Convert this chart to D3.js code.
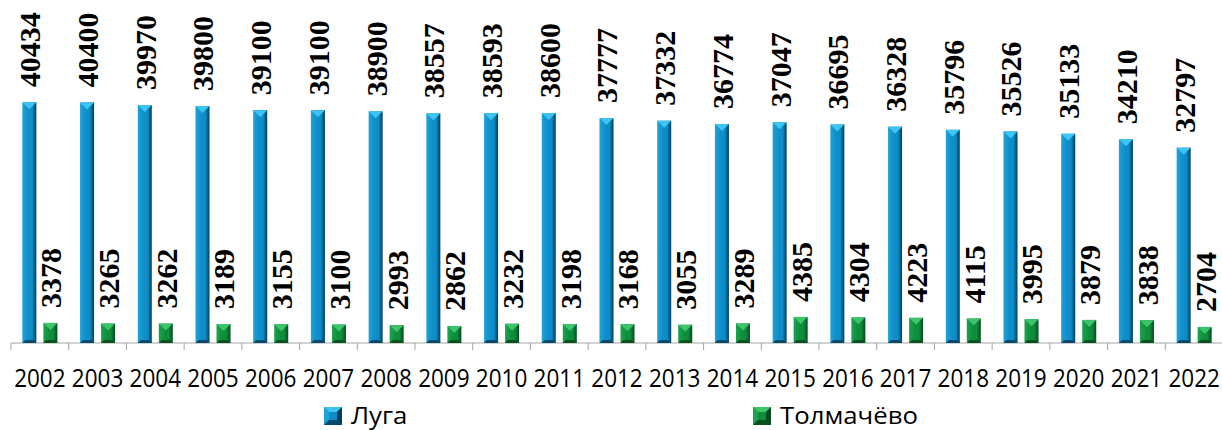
<!DOCTYPE html>
<html>
<head>
<meta charset="utf-8">
<script src="https://cdn.jsdelivr.net/npm/d3@7"></script>
<style>
  body { margin: 0; background: #fff; }
  svg { display: block; }
  .axis path, .axis line { stroke: #a6a6a6; }
  .axis text { font-family: "Open Sans", sans-serif; font-size: 25px; fill: #000; }
  .lbl { font-family: "Liberation Serif", "Times New Roman", serif; font-weight: bold; font-size: 30px; fill: #000; }
  .legend text { font-family: "Open Sans", sans-serif; font-size: 23px; fill: #000; }
</style>
</head>
<body>
<svg id="chart" width="1222" height="430"></svg>
<script>
var years = ["2002","2003","2004","2005","2006","2007","2008","2009","2010","2011","2012",
  "2013","2014","2015","2016","2017","2018","2019","2020","2021","2022"];
var luga = [40434,40400,39970,39800,39100,39100,38900,38557,38593,38600,37777,
  37332,36774,37047,36695,36328,35796,35526,35133,34210,32797];
var tolm = [3378,3265,3262,3189,3155,3100,2993,2862,3232,3198,3168,
  3055,3289,4385,4304,4223,4115,3995,3879,3838,2704];
var seriesNames = ["Луга", "Толмачёво"];

var colors = {
  "Луга":      {light: "#3cc4f2", mid: "#0f8dc8", dark: "#053e5c", edge: "#1ea2da", bottom: "#06496b"},
  "Толмачёво": {light: "#3cc46a", mid: "#0f8d3d", dark: "#054a1f", edge: "#1ba34d", bottom: "#06521f"}
};

var svg = d3.select("#chart");
var baseY = 343;

var x = d3.scaleBand().domain(years).range([11, 1223]).paddingInner(0).paddingOuter(0);
var x1 = d3.scaleBand().domain(seriesNames).range([0, x.bandwidth()])
  .paddingInner(1/3).paddingOuter(0.54);
var y = d3.scaleLinear().domain([0, 45000]).range([baseY, 75]);

var defs = svg.append("defs");
seriesNames.forEach(function(s, i) {
  var c = colors[s];
  var g = defs.append("linearGradient").attr("id", "grad" + i)
    .attr("x1", "0").attr("x2", "1").attr("y1", "0").attr("y2", "0");
  g.append("stop").attr("offset", "0").attr("stop-color", c.edge);
  g.append("stop").attr("offset", "0.45").attr("stop-color", c.mid);
  g.append("stop").attr("offset", "0.7").attr("stop-color", c.mid);
  g.append("stop").attr("offset", "1").attr("stop-color", c.dark);
});

// axis
var axis = svg.append("g").attr("class", "axis")
  .attr("transform", "translate(0," + baseY + ")")
  .call(d3.axisBottom(x).tickSize(0).tickPadding(0));
axis.select(".domain").attr("d", "M" + x.range()[0] + ",0H" + x.range()[1]);
axis.selectAll(".bound").data(years.concat(["end"])).enter().append("line")
  .attr("class", "bound")
  .attr("x1", function(d, i) { return x.range()[0] + i * x.step(); })
  .attr("x2", function(d, i) { return x.range()[0] + i * x.step(); })
  .attr("y1", 0).attr("y2", 7);
// years a bit narrower and taller, like the original
axis.selectAll(".tick text")
  .attr("y", 0).attr("dy", 0)
  .attr("transform", "translate(0,44) scale(0.9,1)");

var data = [];
years.forEach(function(yr, i) {
  data.push({year: yr, s: "Луга", v: luga[i], k: 0});
  data.push({year: yr, s: "Толмачёво", v: tolm[i], k: 1});
});

var bars = svg.append("g").selectAll("g").data(data).enter().append("g");
var bw = x1.bandwidth();

bars.append("rect")
  .attr("x", function(d) { return x(d.year) + x1(d.s); })
  .attr("y", function(d) { return y(d.v); })
  .attr("width", bw)
  .attr("height", function(d) { return baseY - y(d.v); })
  .attr("fill", function(d) { return "url(#grad" + d.k + ")"; });

// top bevel
bars.append("path")
  .attr("d", function(d) {
    var x0 = x(d.year) + x1(d.s), t = y(d.v);
    return "M" + x0 + "," + t + "L" + (x0 + bw) + "," + t + "L" + (x0 + bw / 2) + "," + (t + bw / 2) + "Z";
  })
  .attr("fill", function(d) { return colors[d.s].light; });

// bottom bevel
bars.append("path")
  .attr("d", function(d) {
    var x0 = x(d.year) + x1(d.s);
    return "M" + x0 + "," + baseY + "L" + (x0 + bw) + "," + baseY + "L" + (x0 + bw - 3) + "," + (baseY - 3) + "L" + (x0 + 3) + "," + (baseY - 3) + "Z";
  })
  .attr("fill", function(d) { return colors[d.s].bottom; });

// value labels
bars.append("text")
  .attr("class", "lbl")
  .attr("transform", function(d) {
    var cx = x(d.year) + x1(d.s) + bw / 2 + 0.7 + 30 * 0.34;
    return "translate(" + cx + "," + (y(d.v) - 15) + ") rotate(-90)";
  })
  .text(function(d) { return d.v; });

// legend
var legendPos = [324, 753];
var leg = svg.append("g").attr("class", "legend").selectAll("g").data(seriesNames).enter().append("g")
  .attr("transform", function(d, i) { return "translate(" + legendPos[i] + ",407)"; });
var m = 18, b = 5;
function face(pts) { return "M" + pts.map(function(p) { return p.join(","); }).join("L") + "Z"; }
leg.append("rect").attr("width", m).attr("height", m).attr("fill", function(d) { return colors[d].mid; });
leg.append("path").attr("d", face([[0,0],[m,0],[m-b,b],[b,b]])).attr("fill", function(d) { return colors[d].light; });
leg.append("path").attr("d", face([[0,0],[b,b],[b,m-b],[0,m]])).attr("fill", function(d) { return colors[d].edge; });
leg.append("path").attr("d", face([[m,0],[m,m],[m-b,m-b],[m-b,b]])).attr("fill", function(d) { return colors[d].dark; });
leg.append("path").attr("d", face([[0,m],[b,m-b],[m-b,m-b],[m,m]])).attr("fill", function(d) { return colors[d].bottom; });
leg.append("text").attr("transform", "translate(27,17) scale(1.12,1)").text(function(d) { return d; });
</script>
</body>
</html>
